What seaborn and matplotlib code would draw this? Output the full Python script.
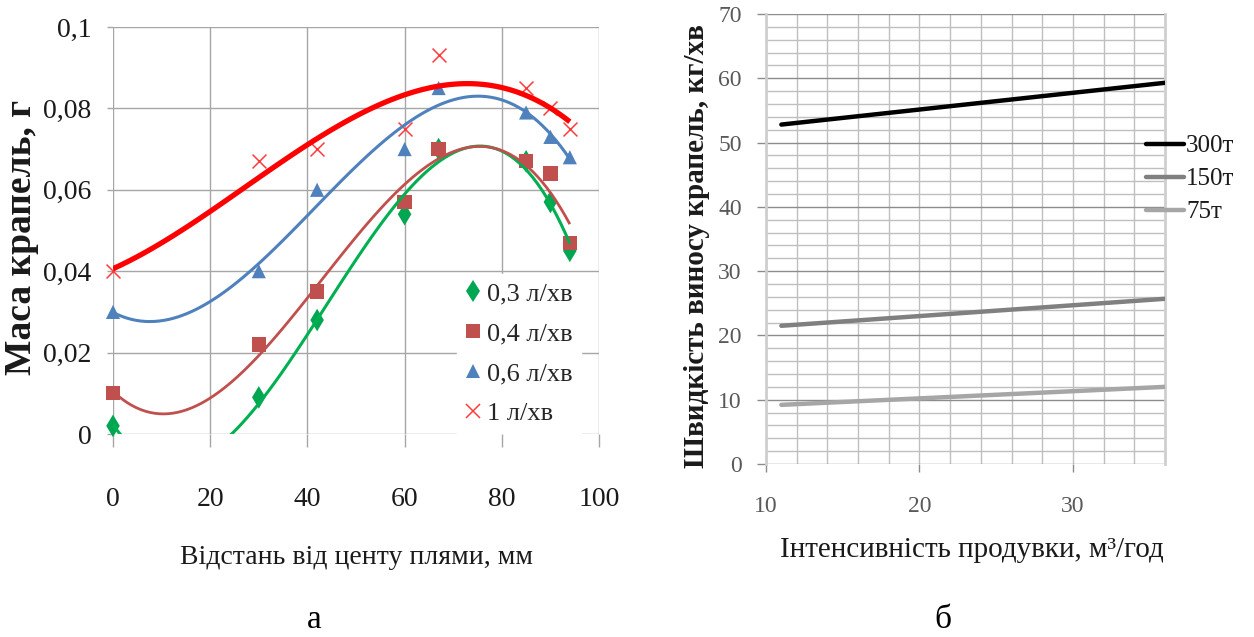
import matplotlib
matplotlib.use("Agg")
import matplotlib.pyplot as plt
from matplotlib.lines import Line2D
from matplotlib.ticker import FixedLocator
import numpy as np
import pandas as pd
import seaborn as sns

# ---- panel а: droplet mass vs distance from spot centre ----
distance_mm = [0, 30, 42, 60, 67, 85, 90, 94]
mass_03 = [0.002, 0.009, 0.028, 0.054, 0.070, 0.067, 0.057, 0.045]
mass_04 = [0.010, 0.022, 0.035, 0.057, 0.070, 0.067, 0.064, 0.047]
mass_06 = [0.030, 0.040, 0.060, 0.070, 0.085, 0.079, 0.073, 0.068]
mass_1 = [0.040, 0.067, 0.070, 0.075, 0.093, 0.085, 0.080, 0.075]
flow_labels = ["0,3 л/хв", "0,4 л/хв", "0,6 л/хв", "1 л/хв"]
xticks_a = [0, 20, 40, 60, 80, 100]
yticks_a = [0, 0.02, 0.04, 0.06, 0.08, 0.1]
ytick_labels_a = ["0", "0,02", "0,04", "0,06", "0,08", "0,1"]

# ---- panel б: drop carry-over rate vs blow-through intensity ----
intensity = [11, 36]
rate_300 = [52.8, 59.3]
rate_150 = [21.5, 25.7]
rate_75 = [9.2, 12.0]
load_labels = ["300т", "150т", "75т"]
xticks_b = [10, 20, 30]
yticks_b = [0, 10, 20, 30, 40, 50, 60, 70]

sns.set_theme(style="white")
plt.rcParams["font.family"] = ["Liberation Serif", "DejaVu Serif"]

W, H = 1254, 637
fig = plt.figure(figsize=(W / 100, H / 100), dpi=100)
fig.patch.set_facecolor("white")


def fx(px):
    return px / W


def fy(py):
    return 1 - py / H


ax1 = fig.add_axes([fx(113), fy(434), fx(599) - fx(113), fy(27) - fy(434)])
ax2 = fig.add_axes([fx(766), fy(464), fx(1165) - fx(766), fy(14) - fy(464)])

# ---------- panel а ----------
styles = [
    # marker, marker colour, size(pt), line colour, line width
    ("d", "#00A651", 11.5, "#00B050", 2.2),
    ("s", "#C0504D", 10.3, "#C0504D", 2.0),
    ("^", "#4F81BD", 10.2, "#4F81BD", 2.2),
    ("x", "#FF3B3B", 10.0, "#FF0000", 3.8),
]
series_a = [mass_03, mass_04, mass_06, mass_1]

for i, (vals, (mk, mc, ms, lc, lw)) in enumerate(zip(series_a, styles)):
    if mk == "x":
        sns.scatterplot(x=distance_mm, y=vals, marker=mk, color=mc, s=ms ** 2,
                        linewidth=1.1, ax=ax1, zorder=3 + i, legend=False,
                        clip_on=False)
    else:
        sns.scatterplot(x=distance_mm, y=vals, marker=mk, color=mc, s=ms ** 2,
                        edgecolor="none", linewidth=0, ax=ax1, zorder=3 + i,
                        legend=False, clip_on=False)
for i, (vals, (mk, mc, ms, lc, lw)) in enumerate(zip(series_a, styles)):
    sns.regplot(x=distance_mm, y=vals, order=3, ci=None, scatter=False,
                truncate=True, ax=ax1,
                line_kws=dict(color=lc, lw=lw, zorder=7 + i,
                              solid_capstyle="butt"))

ax1.set_xlim(0, 100)
ax1.set_ylim(0, 0.1)
ax1.xaxis.set_major_locator(FixedLocator(xticks_a))
ax1.set_xticklabels([str(v) for v in xticks_a])
ax1.yaxis.set_major_locator(FixedLocator(yticks_a))
ax1.set_yticklabels(ytick_labels_a)
ax1.set_xlabel("")
ax1.set_ylabel("")
ax1.grid(True, color="#a6a6a6", lw=1.0)
ax1.set_axisbelow(True)
for sp in ax1.spines.values():
    sp.set_visible(False)
ax1.tick_params(axis="x", length=9, width=1, color="#a6a6a6", direction="out",
                pad=29, labelsize=20, labelcolor="#1a1a1a", bottom=True)
ax1.tick_params(axis="y", length=4.5, width=1, color="#a6a6a6", direction="out",
                pad=11, labelsize=20, labelcolor="#1a1a1a", left=True)

handles_a = [
    Line2D([], [], ls="none", marker=mk, color=mc, markersize=ms,
           markeredgewidth=(1.1 if mk == "x" else 0))
    for (mk, mc, ms, lc, lw) in styles
]
leg_a = ax1.legend(handles_a, flow_labels, loc="upper left",
                   bbox_to_anchor=(fx(457), fy(274)),
                   bbox_transform=fig.transFigure, frameon=True,
                   facecolor="white", edgecolor="white", framealpha=1,
                   fancybox=False, fontsize=19, handlelength=0.6,
                   handletextpad=0.25, labelspacing=0.62, borderpad=0.3,
                   borderaxespad=0)
leg_a.set_zorder(20)

fig.text(fx(22), fy(237), "Маса крапель, г", rotation=90, ha="center",
         va="center", fontsize=27, fontweight="bold", color="#1a1a1a")
fig.text(fx(356), fy(558), "Відстань від центу плями, мм", ha="center",
         va="center", fontsize=20, color="#1a1a1a")
fig.text(fx(314), fy(620), "а", ha="center", va="center", fontsize=24,
         color="black")

# ---------- panel б ----------
df_b = pd.DataFrame({
    "intensity": intensity * 3,
    "rate": rate_300 + rate_150 + rate_75,
    "load": [load_labels[0]] * len(intensity) + [load_labels[1]] * len(intensity)
            + [load_labels[2]] * len(intensity),
})
palette_b = {load_labels[0]: "#000000", load_labels[1]: "#808080",
             load_labels[2]: "#A6A6A6"}
sns.lineplot(data=df_b, x="intensity", y="rate", hue="load",
             hue_order=load_labels, palette=palette_b, ax=ax2, legend=False,
             lw=3.2, zorder=5)

ax2.set_xlim(10, 36)
ax2.set_ylim(0, 70)
ax2.xaxis.set_major_locator(FixedLocator(xticks_b))
ax2.xaxis.set_minor_locator(FixedLocator(list(range(12, 36, 2))))
ax2.yaxis.set_major_locator(FixedLocator(yticks_b))
ax2.yaxis.set_minor_locator(FixedLocator([v for v in range(2, 70, 2) if v % 10]))
ax2.set_xticklabels([str(v) for v in xticks_b])
ax2.set_yticklabels([str(v) for v in yticks_b])
ax2.set_xlabel("")
ax2.set_ylabel("")
ax2.grid(True, which="major", axis="y", color="#8c8c8c", lw=1.0)
ax2.grid(True, which="minor", axis="y", color="#bfbfbf", lw=1.0)
ax2.grid(True, which="both", axis="x", color="#bfbfbf", lw=1.0)
ax2.set_axisbelow(True)
for name, sp in ax2.spines.items():
    if name in ("left", "right"):
        sp.set_color("#cfcfcf")
        sp.set_linewidth(2.0)
    else:
        sp.set_visible(False)
ax2.tick_params(axis="x", which="major", length=6, width=1, color="#8c8c8c",
                direction="out", pad=17, labelsize=17, labelcolor="#595959",
                bottom=True)
ax2.tick_params(axis="x", which="minor", length=0)
ax2.tick_params(axis="y", which="major", length=6.5, width=1, color="#8c8c8c",
                direction="out", pad=11, labelsize=17, labelcolor="#595959",
                left=True)
ax2.tick_params(axis="y", which="minor", length=0)

lines_b = ax2.get_lines()[:3]
handles_b = [Line2D([], [], color=l.get_color(), lw=3.2) for l in lines_b]
fig.legend(handles_b, load_labels, loc="upper left",
           bbox_to_anchor=(fx(1146), fy(135)), frameon=False, fontsize=18,
           handlelength=1.5, handletextpad=0.1, labelspacing=0.42,
           borderpad=0, borderaxespad=0, labelcolor="#1a1a1a")

fig.text(fx(697), fy(246), "Швидкість виносу крапель, кг/хв", rotation=90,
         ha="center", va="center", fontsize=21, fontweight="bold",
         color="#1a1a1a")
fig.text(fx(972), fy(550), "Інтенсивність продувки, м³/год", ha="center",
         va="center", fontsize=21, color="#1a1a1a")
fig.text(fx(943), fy(620), "б", ha="center", va="center", fontsize=24,
         color="black")

fig.savefig("out.png", dpi=100, facecolor="white")
